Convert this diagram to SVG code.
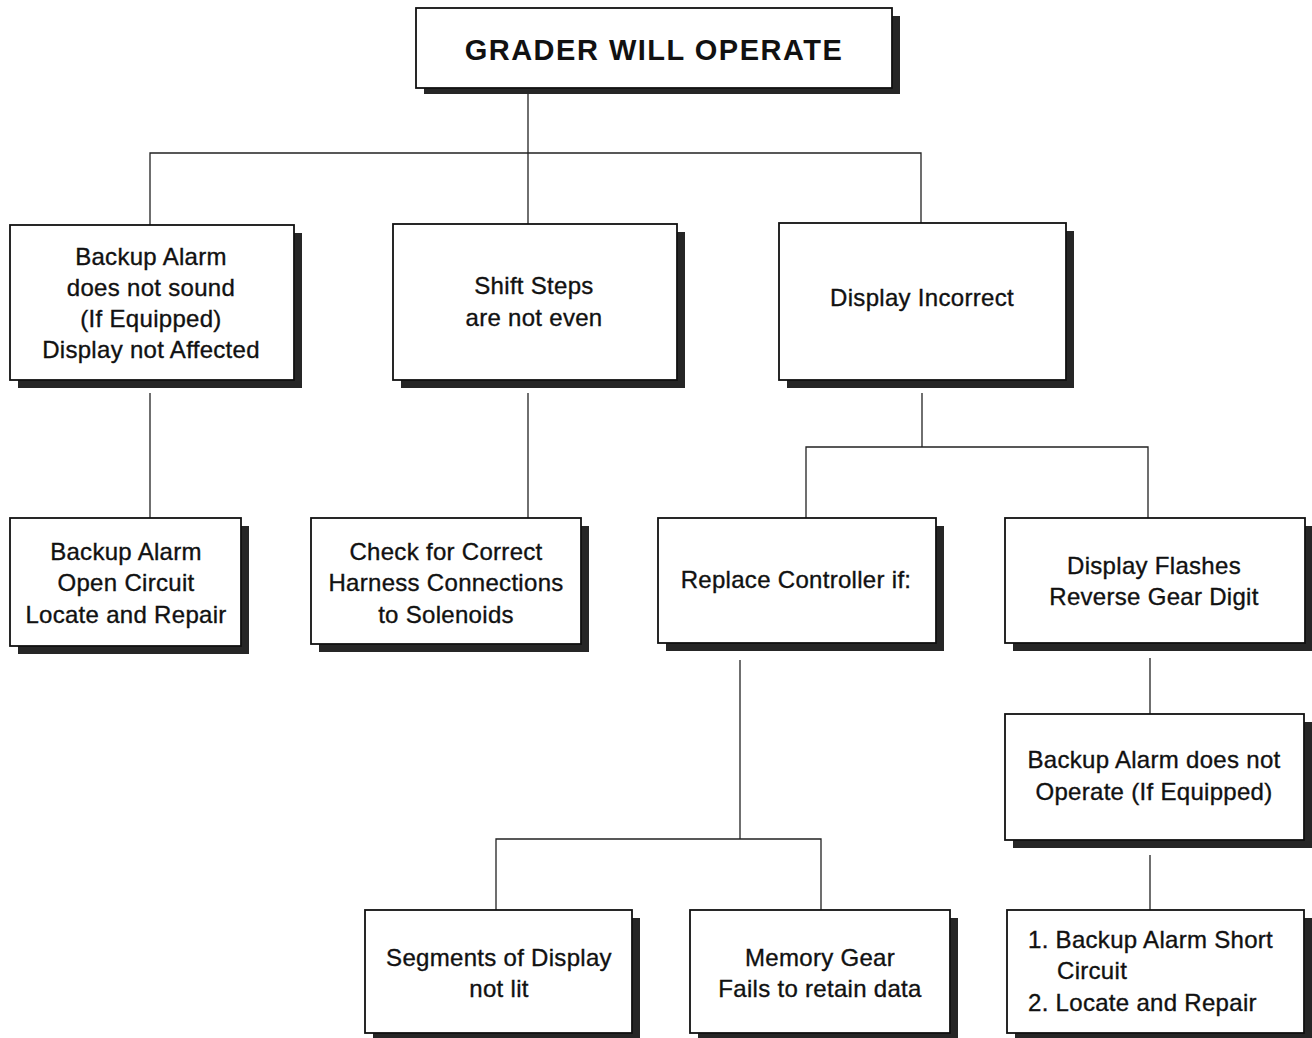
<svg xmlns="http://www.w3.org/2000/svg" width="1312" height="1038" viewBox="0 0 1312 1038">
<defs>
<style>
.sh{fill:#262626}
.bx{fill:#fff;stroke:#111;stroke-width:1.8}
.t{font-family:"Liberation Sans",Arial,sans-serif;font-size:24px;letter-spacing:0.3px;fill:#111;stroke:#111;stroke-width:0.35;text-anchor:middle}
.tl{text-anchor:start}
.title{font-family:"Liberation Sans",Arial,sans-serif;font-size:29px;font-weight:bold;letter-spacing:1.5px;fill:#111;text-anchor:middle}
.c{fill:none;stroke:#222;stroke-width:1.3}
</style>
</defs>
<rect width="1312" height="1038" fill="#fff"/>
<g id="connectors">
<path class="c" d="M528,88 V224"/>
<path class="c" d="M150,225 V153 H921 V223"/>
<path class="c" d="M150,393 V518"/>
<path class="c" d="M528,393 V518"/>
<path class="c" d="M922,393 V447"/>
<path class="c" d="M806,518 V447 H1148 V518"/>
<path class="c" d="M1150,658 V714"/>
<path class="c" d="M1150,855 V910"/>
<path class="c" d="M740,660 V839"/>
<path class="c" d="M496,910 V839 H821 V910"/>
</g>
<g id="n-grader">
<rect class="sh" x="424" y="16" width="476" height="78"/>
<rect class="bx" x="416" y="8" width="476" height="80"/>
<text class="title" x="654" y="60">GRADER WILL OPERATE</text>
</g>
<g id="n-backup-alarm">
<rect class="sh" x="18" y="233" width="284" height="155"/>
<rect class="bx" x="10" y="225" width="284" height="155"/>
<text class="t" x="151" y="265">Backup Alarm</text>
<text class="t" x="151" y="296">does not sound</text>
<text class="t" x="151" y="327">(If Equipped)</text>
<text class="t" x="151" y="358">Display not Affected</text>
</g>
<g id="n-shift-steps">
<rect class="sh" x="401" y="232" width="284" height="156"/>
<rect class="bx" x="393" y="224" width="284" height="156"/>
<text class="t" x="534" y="294">Shift Steps</text>
<text class="t" x="534" y="326">are not even</text>
</g>
<g id="n-display-incorrect">
<rect class="sh" x="787" y="231" width="287" height="157"/>
<rect class="bx" x="779" y="223" width="287" height="157"/>
<text class="t" x="922" y="306">Display Incorrect</text>
</g>
<g id="n-open-circuit">
<rect class="sh" x="18" y="526" width="231" height="128"/>
<rect class="bx" x="10" y="518" width="231" height="128"/>
<text class="t" x="126" y="560">Backup Alarm</text>
<text class="t" x="126" y="591">Open Circuit</text>
<text class="t" x="126" y="623">Locate and Repair</text>
</g>
<g id="n-harness">
<rect class="sh" x="319" y="526" width="270" height="126"/>
<rect class="bx" x="311" y="518" width="270" height="126"/>
<text class="t" x="446" y="560">Check for Correct</text>
<text class="t" x="446" y="591">Harness Connections</text>
<text class="t" x="446" y="623">to Solenoids</text>
</g>
<g id="n-replace-controller">
<rect class="sh" x="666" y="526" width="278" height="125"/>
<rect class="bx" x="658" y="518" width="278" height="125"/>
<text class="t" x="796" y="588">Replace Controller if:</text>
</g>
<g id="n-display-flashes">
<rect class="sh" x="1013" y="526" width="300" height="125"/>
<rect class="bx" x="1005" y="518" width="300" height="125"/>
<text class="t" x="1154" y="574">Display Flashes</text>
<text class="t" x="1154" y="605">Reverse Gear Digit</text>
</g>
<g id="n-alarm-not-operate">
<rect class="sh" x="1013" y="722" width="299" height="126"/>
<rect class="bx" x="1005" y="714" width="299" height="126"/>
<text class="t" x="1154" y="768">Backup Alarm does not</text>
<text class="t" x="1154" y="800">Operate (If Equipped)</text>
</g>
<g id="n-short-circuit">
<rect class="sh" x="1015" y="918" width="297" height="123"/>
<rect class="bx" x="1007" y="910" width="297" height="123"/>
<text class="t tl" x="1028" y="948">1. Backup Alarm Short</text>
<text class="t tl" x="1057" y="979">Circuit</text>
<text class="t tl" x="1028" y="1011">2. Locate and Repair</text>
</g>
<g id="n-segments">
<rect class="sh" x="373" y="918" width="267" height="123"/>
<rect class="bx" x="365" y="910" width="267" height="123"/>
<text class="t" x="499" y="966">Segments of Display</text>
<text class="t" x="499" y="997">not lit</text>
</g>
<g id="n-memory">
<rect class="sh" x="698" y="918" width="260" height="123"/>
<rect class="bx" x="690" y="910" width="260" height="123"/>
<text class="t" x="820" y="966">Memory Gear</text>
<text class="t" x="820" y="997">Fails to retain data</text>
</g>
</svg>
